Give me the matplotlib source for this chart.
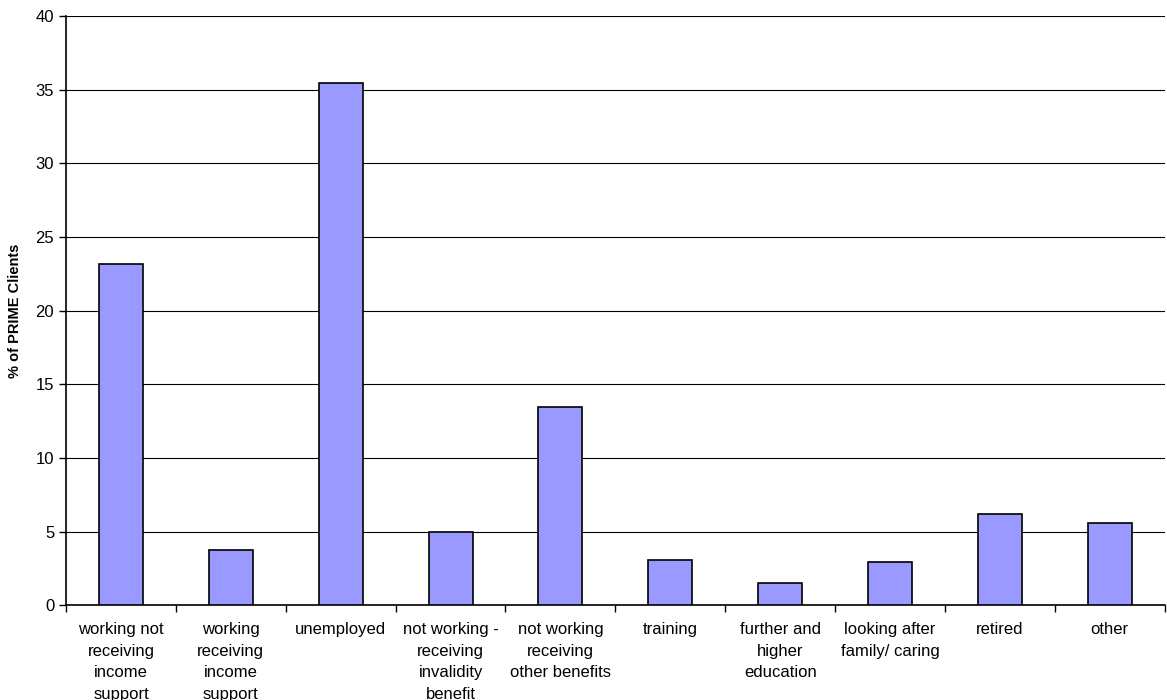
import numpy as np
import matplotlib.pyplot as plt

plt.rcParams['font.family'] = ['Liberation Sans', 'DejaVu Sans']

# categorias e valores (%)
categorias = [
    "working not\nreceiving\nincome\nsupport",
    "working\nreceiving\nincome\nsupport",
    "unemployed",
    "not working -\nreceiving\ninvalidity\nbenefit",
    "not working\nreceiving\nother benefits",
    "training",
    "further and\nhigher\neducation",
    "looking after\nfamily/ caring",
    "retired",
    "other",
]
valores = [23.2, 3.77, 35.43, 4.97, 13.47, 3.07, 1.49, 2.96, 6.17, 5.56]
y_ticks = [0, 5, 10, 15, 20, 25, 30, 35, 40]

fig = plt.figure(figsize=(11.67, 7.0), dpi=100)
ax = fig.add_axes([0.0566, 0.1353, 0.9414, 0.8417])

x = np.arange(len(categorias))
ax.bar(x, valores, width=0.4, color="#9999FF", edgecolor="black", linewidth=1.2, zorder=3)

# grade horizontal
ax.set_ylim(0, 40)
ax.set_yticks(y_ticks)
ax.yaxis.grid(True, color="black", linewidth=0.8, zorder=0)
ax.set_xlim(-0.5, len(categorias) - 0.5)

# ticks nas fronteiras das categorias
ax.set_xticks(np.arange(-0.5, len(categorias) + 0.5, 1), minor=False)
ax.set_xticklabels([])
ax.set_xticks(x, minor=True)
ax.set_xticklabels(categorias, minor=True, fontsize=12, linespacing=1.55, va="top")
ax.tick_params(axis="x", which="minor", length=0, pad=12)
ax.tick_params(axis="x", which="major", length=5, direction="out", width=1)
ax.tick_params(axis="y", length=5, direction="out", labelsize=12, width=1)

for lado in ["top", "right"]:
    ax.spines[lado].set_visible(False)
ax.spines["left"].set_linewidth(1.2)
ax.spines["bottom"].set_linewidth(1.2)

ax.set_ylabel("% of PRIME Clients", fontsize=10.5, fontweight="bold", labelpad=10)

fig.savefig("out.png", dpi=100)
